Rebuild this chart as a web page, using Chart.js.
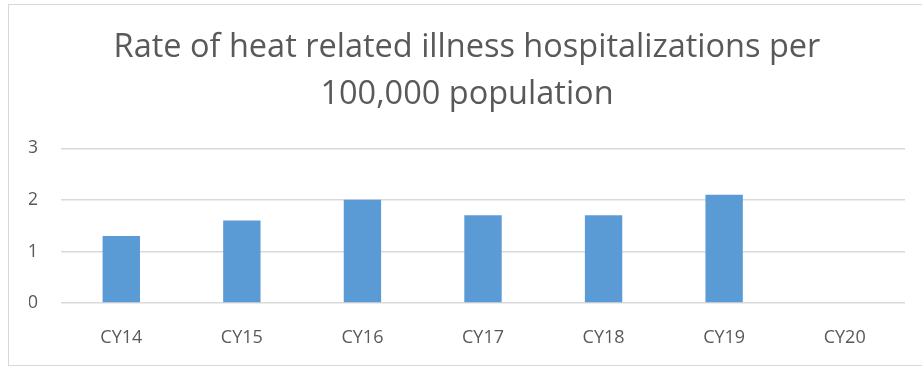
<!DOCTYPE html>
<html lang="en">
<head>
    <meta charset="UTF-8">
    <title>heat illness chart</title>
    <script src="https://cdn.jsdelivr.net/npm/chart.js@4.4.0/dist/chart.umd.min.js"></script>
    <style>
        body{ margin:0; background:#fff; }
        #board{ /* chart frame, light gray border like the original */
            position:absolute;
            left:8px;
            top:4px;
            width:914px;
            height:360px;
            border:1px solid #d9d9d9;
            border-right:none;
        }
    </style>
</head>
<body>
    <div id="board">
        <canvas id="chart1" width="914" height="360"></canvas>
    </div>
<script>
    const categories = ['CY14','CY15','CY16','CY17','CY18','CY19','CY20'];
    const rates = [1.3, 1.6, 2.0, 1.7, 1.7, 2.1, null]; // CY20 has no bar
    const yTicks = [0, 1, 2, 3];

    const ctx = document.getElementById('chart1').getContext('2d');
    new Chart(ctx, {
        type: 'bar',
        data: {
            labels: categories,
            datasets: [{
                label: 'Rate',
                data: rates,
                backgroundColor: '#5b9bd5',
                borderWidth: 0,
                barPercentage: 0.62,
                categoryPercentage: 0.5
            }]
        },
        options: {
            responsive: false,
            animation: false,
            layout: { padding: { left: 20, right: 18, top: 0, bottom: 0 } }, // left pad keeps title centred
            plugins: {
                legend: { display: false },
                tooltip: { enabled: false },
                title: {
                    display: true,
                    text: ['Rate of heat related illness hospitalizations per', '100,000 population'],
                    color: '#595959',
                    font: { family: 'Open Sans', size: 32.5, weight: 'normal', lineHeight: 1.45 },
                    padding: { top: 19, bottom: 30 }
                }
            },
            scales: {
                x: {
                    grid: { display: false },
                    border: { display: false },
                    afterFit: axis => { axis.height = 62; },
                    ticks: { color: '#595959', font: { family: 'Open Sans', size: 18 }, padding: 16 }
                },
                y: {
                    min: 0,
                    max: 3,
                    afterBuildTicks: axis => { axis.ticks = yTicks.map(v => ({ value: v })); },
                    afterFit: axis => { axis.width = 32; },
                    grid: { color: '#d9d9d9', lineWidth: 1.5, drawTicks: false },
                    border: { display: false },
                    ticks: { color: '#595959', font: { family: 'Open Sans', size: 18 }, padding: 23 }
                }
            }
        }
    });
</script>
</body>
</html>
